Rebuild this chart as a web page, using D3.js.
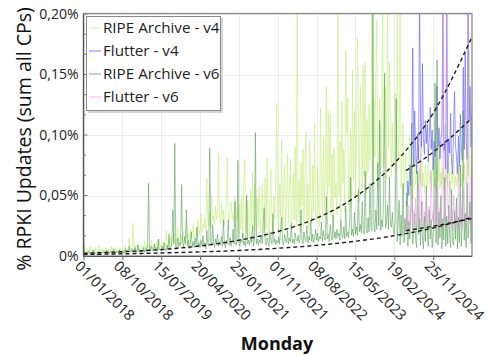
<!DOCTYPE html>
<html>
<head>
<meta charset="utf-8">
<script src="https://cdn.jsdelivr.net/npm/d3@7"></script>
<style>
  body { margin: 0; background: #fff; }
  svg { display: block; font-family: "Open Sans", "Noto Sans", sans-serif; }
</style>
</head>
<body>
<svg id="chart" width="490" height="355"></svg>
<script>
// Weekly share of RPKI updates (percent of all updates, summed over collector peers)
const startWeek = "2018-01-01";
const flutterStart = "2024-05-13";

const ripeV4 = [
  0.025,0.004,0.003,0.006,0.002,0.005,0.003,0.008,0.004,0.002,0.006,0.003,0.007,0.004,0.002,0.005,0.009,0.003,0.004,0.006,
  0.003,0.005,0.002,0.007,0.004,0.003,0.006,0.002,0.005,0.008,0.003,0.004,0.002,0.006,0.003,0.005,0.004,0.007,0.003,0.005,
  0.004,0.006,0.003,0.009,0.005,0.004,0.007,0.015,0.006,0.004,0.008,0.027,0.005,0.009,0.004,0.006,0.011,0.005,0.007,0.004,
  0.006,0.009,0.005,0.012,0.007,0.004,0.008,0.006,0.010,0.005,0.013,0.007,0.006,0.009,0.005,0.011,0.008,0.006,0.014,0.007,
  0.009,0.006,0.012,0.008,0.010,0.021,0.009,0.007,0.013,0.010,0.016,0.008,0.012,0.019,0.011,0.009,0.015,0.024,0.010,0.013,
  0.017,0.011,0.014,0.020,0.012,0.016,0.028,0.013,0.018,0.011,0.022,0.015,0.019,0.026,0.014,0.017,0.023,0.016,0.030,0.018,
  0.022,0.035,0.019,0.027,0.024,0.031,0.021,0.064,0.028,0.025,0.036,0.023,0.050,0.029,0.033,0.026,0.041,0.030,0.037,0.085,
  0.032,0.027,0.044,0.031,0.038,0.025,0.035,0.042,0.081,0.033,0.029,0.040,0.045,0.030,0.036,0.028,0.048,0.034,0.031,0.039,
  0.018,0.043,0.022,0.051,0.015,0.062,0.080,0.025,0.019,0.046,0.030,0.014,0.055,0.027,0.070,0.021,0.060,0.033,0.017,0.048,
  0.024,0.058,0.019,0.040,0.060,0.028,0.016,0.065,0.022,0.081,0.035,0.018,0.052,0.072,0.026,0.020,0.049,0.031,0.066,0.126,
  0.025,0.018,0.060,0.033,0.096,0.022,0.047,0.075,0.019,0.043,0.085,0.027,0.050,0.080,0.021,0.046,0.068,0.030,0.090,0.024,
  0.210,0.032,0.063,0.020,0.078,0.041,0.088,0.025,0.070,0.102,0.029,0.059,0.022,0.095,0.050,0.027,0.075,0.036,0.110,0.031,
  0.028,0.072,0.045,0.024,0.122,0.055,0.030,0.098,0.038,0.068,0.140,0.026,0.120,0.057,0.118,0.033,0.084,0.029,0.090,0.048,
  0.061,0.034,0.210,0.050,0.095,0.030,0.128,0.060,0.088,0.036,0.170,0.100,0.131,0.042,0.070,0.105,0.040,0.154,0.063,0.120,
  0.048,0.090,0.180,0.115,0.045,0.140,0.105,0.055,0.158,0.066,0.160,0.050,0.112,0.069,0.125,0.079,0.094,0.210,0.060,0.130,
  0.082,0.150,0.195,0.055,0.091,0.130,0.068,0.087,0.210,0.074,0.100,0.140,0.063,0.210,0.090,0.160,0.120,0.066,0.110,0.076,
  0.088,0.135,0.070,0.210,0.081,0.092,0.210,0.056,0.078,0.110,0.050,0.072,0.085,0.048,0.068,0.079,0.098,0.052,0.074,0.046,
  0.070,0.083,0.059,0.065,0.090,0.054,0.072,0.061,0.105,0.057,0.068,0.052,0.076,0.063,0.058,0.088,0.060,0.071,0.055,0.066,
  0.080,0.058,0.064,0.053,0.075,0.062,0.095,0.056,0.069,0.059,0.073,0.054,0.109,0.061,0.067,0.057,0.078,0.063,0.052,0.070,
  0.060,0.085,0.055,0.066,0.058,0.074,0.062,0.070,0.092,0.057,0.068,0.061,0.076,0.065,0.059,0.081,0.066,0.170,0.072,0.064,
  0.078
];

const ripeV6 = [
  0.016,0.002,0.003,0.001,0.002,0.004,0.002,0.003,0.001,0.002,0.005,0.002,0.003,0.002,0.001,0.003,0.004,0.002,0.003,0.002,
  0.002,0.004,0.003,0.002,0.005,0.002,0.003,0.002,0.004,0.003,0.002,0.006,0.003,0.002,0.004,0.003,0.002,0.005,0.003,0.002,
  0.003,0.004,0.002,0.006,0.003,0.005,0.003,0.008,0.004,0.003,0.006,0.004,0.003,0.007,0.004,0.003,0.009,0.004,0.005,0.003,
  0.005,0.004,0.007,0.003,0.006,0.004,0.012,0.060,0.005,0.004,0.008,0.005,0.004,0.010,0.005,0.007,0.004,0.014,0.005,0.006,
  0.004,0.008,0.005,0.011,0.006,0.004,0.009,0.006,0.018,0.005,0.007,0.012,0.038,0.010,0.093,0.008,0.006,0.015,0.007,0.011,
  0.009,0.059,0.012,0.007,0.016,0.010,0.038,0.008,0.013,0.006,0.010,0.020,0.008,0.012,0.007,0.015,0.009,0.024,0.008,0.011,
  0.007,0.013,0.009,0.017,0.008,0.011,0.006,0.021,0.010,0.008,0.089,0.012,0.009,0.026,0.011,0.007,0.014,0.010,0.018,0.008,
  0.012,0.009,0.016,0.008,0.030,0.011,0.007,0.013,0.010,0.030,0.009,0.015,0.008,0.012,0.022,0.010,0.045,0.009,0.013,0.079,
  0.010,0.008,0.014,0.011,0.019,0.009,0.012,0.008,0.050,0.010,0.013,0.009,0.016,0.011,0.025,0.008,0.012,0.102,0.010,0.014,
  0.009,0.013,0.011,0.017,0.010,0.028,0.040,0.012,0.009,0.015,0.011,0.008,0.020,0.012,0.010,0.035,0.011,0.014,0.009,0.013,
  0.011,0.016,0.010,0.024,0.032,0.012,0.009,0.018,0.013,0.011,0.021,0.010,0.015,0.012,0.027,0.011,0.014,0.010,0.019,0.013,
  0.012,0.017,0.011,0.015,0.038,0.013,0.010,0.020,0.014,0.012,0.025,0.011,0.016,0.013,0.030,0.012,0.018,0.011,0.015,0.022,
  0.013,0.019,0.012,0.016,0.014,0.028,0.012,0.021,0.015,0.013,0.049,0.014,0.018,0.012,0.026,0.016,0.013,0.034,0.015,0.020,
  0.014,0.022,0.016,0.019,0.013,0.030,0.017,0.015,0.024,0.014,0.041,0.016,0.020,0.015,0.028,0.065,0.017,0.022,0.016,0.036,
  0.018,0.024,0.017,0.055,0.020,0.026,0.019,0.045,0.021,0.018,0.070,0.022,0.019,0.032,0.020,0.060,0.023,0.021,0.215,0.024,
  0.020,0.038,0.022,0.077,0.025,0.112,0.021,0.030,0.024,0.050,0.151,0.023,0.027,0.042,0.022,0.065,0.026,0.024,0.036,0.021,
  0.018,0.030,0.130,0.012,0.028,0.046,0.009,0.034,0.016,0.060,0.011,0.031,0.020,0.052,0.008,0.029,0.014,0.040,0.110,0.010,
  0.022,0.035,0.013,0.007,0.070,0.018,0.031,0.009,0.045,0.015,0.006,0.033,0.012,0.058,0.019,0.008,0.038,0.014,0.030,0.007,
  0.017,0.044,0.143,0.011,0.162,0.009,0.036,0.015,0.050,0.006,0.031,0.013,0.065,0.008,0.033,0.010,0.042,0.016,0.007,0.055,
  0.012,0.009,0.037,0.014,0.048,0.006,0.032,0.011,0.075,0.008,0.030,0.120,0.013,0.035,0.007,0.060,0.015,0.031,0.045,0.010,
  0.090
];

const flutterV4 = [
  0.045,0.041,0.062,0.050,0.075,0.058,0.092,0.172,0.074,0.120,
  0.086,0.068,0.101,0.079,0.215,0.118,0.090,0.159,0.097,0.084,
  0.112,0.093,0.109,0.078,0.098,0.123,0.088,0.104,0.071,0.095,
  0.082,0.110,0.140,0.090,0.106,0.080,0.097,0.101,0.215,0.087,
  0.095,0.072,0.215,0.068,0.097,0.085,0.118,0.076,0.068,0.104,
  0.136,0.091,0.083,0.068,0.099,0.074,0.117,0.092,0.079,0.156,
  0.088,0.168,0.095,0.080,0.215,0.112,0.140,0.090,0.125
];

const flutterV6 = [
  0.020,0.035,0.018,0.042,0.025,0.030,0.055,0.022,0.038,0.027,
  0.048,0.020,0.033,0.060,0.026,0.130,0.031,0.045,0.023,0.037,
  0.028,0.052,0.019,0.034,0.041,0.024,0.070,0.029,0.036,0.021,
  0.046,0.027,0.058,0.032,0.023,0.040,0.026,0.049,0.215,0.030,
  0.035,0.024,0.215,0.043,0.028,0.062,0.025,0.038,0.021,0.050,
  0.033,0.027,0.044,0.022,0.075,0.031,0.026,0.040,0.023,0.056,
  0.029,0.036,0.024,0.048,0.215,0.032,0.027,0.065,0.030
];

// Exponential trend lines, sampled at the axis tick dates
const trendDates = ["2018-01-01","2018-10-08","2019-07-15","2020-04-20","2021-01-25","2021-11-01",
                    "2022-08-08","2023-05-15","2024-02-19","2024-11-25","2025-09-01"];
const ripeV4Trend = [0.0022,0.0035,0.0053,0.0083,0.0130,0.0202,0.0313,0.0488,0.0765,0.1180,0.1810];
const ripeV6Trend = [0.0013,0.0018,0.0025,0.0034,0.0046,0.0064,0.0088,0.0122,0.0168,0.0232,0.0320];
const flutterTrendDates = ["2024-05-13","2024-11-25","2025-09-01"];
const flutterV4Trend = [0.0705,0.0858,0.1140];
const flutterV6Trend = [0.0210,0.0246,0.0310];

const tickLabels = ["01/01/2018","08/10/2018","15/07/2019","20/04/2020","25/01/2021",
                    "01/11/2021","08/08/2022","15/05/2023","19/02/2024","25/11/2024"];
const yTicks = [0, 0.05, 0.10, 0.15, 0.20];
const seriesNames = ["RIPE Archive - v4", "Flutter - v4", "RIPE Archive - v6", "Flutter - v6"];

const parseISO = d3.utcParse("%Y-%m-%d");
const parseTick = d3.utcParse("%d/%m/%Y");
const weekly = (start, vals) => vals.map((v, k) => ({ date: d3.utcDay.offset(parseISO(start), 7 * k), value: v }));
const pairs = (dates, vals) => vals.map((v, k) => ({ date: parseISO(dates[k]), value: v }));

const svg = d3.select("#chart");
const plotL = 83.5, plotR = 472, plotT = 14, plotB = 256;

const x = d3.scaleUtc()
  .domain([parseISO("2018-01-01"), parseISO("2025-09-01")])
  .range([plotL, plotR]);
const y = d3.scaleLinear().domain([0, 0.2]).range([plotB, plotT]);

const tickDates = tickLabels.map(parseTick);

// grid
const grid = svg.append("g").attr("stroke", "#ebebeb").attr("stroke-width", 1);
grid.selectAll("line.v").data(tickDates).join("line")
  .attr("x1", d => Math.round(x(d)) + 0.5).attr("x2", d => Math.round(x(d)) + 0.5)
  .attr("y1", plotT).attr("y2", plotB);
grid.selectAll("line.h").data(yTicks).join("line")
  .attr("x1", plotL).attr("x2", plotR)
  .attr("y1", d => Math.round(y(d)) + 0.5).attr("y2", d => Math.round(y(d)) + 0.5);

// series
svg.append("defs").append("clipPath").attr("id", "plotclip")
  .append("rect").attr("x", plotL).attr("y", plotT).attr("width", plotR - plotL).attr("height", plotB - plotT);

const styles = [
  { color: "#c4ef7c", opacity: 0.6 },
  { color: "#5a5aff", opacity: 0.6 },
  { color: "#4f9a4f", opacity: 0.55 },
  { color: "#e58ae5", opacity: 0.42 }
];
const seriesData = [
  weekly(startWeek, ripeV4),
  weekly(flutterStart, flutterV4),
  weekly(startWeek, ripeV6),
  weekly(flutterStart, flutterV6)
];

const line = d3.line().x(d => x(d.date)).y(d => y(d.value));
const plot = svg.append("g").attr("clip-path", "url(#plotclip)");
seriesData.forEach((data, k) => {
  plot.append("path").datum(data)
    .attr("fill", "none")
    .attr("stroke", styles[k].color)
    .attr("stroke-opacity", styles[k].opacity)
    .attr("stroke-width", 1)
    .attr("stroke-linejoin", "round")
    .attr("d", line);
});

// trend lines
const trendLine = d3.line().x(d => x(d.date)).y(d => y(d.value)).curve(d3.curveMonotoneX);
[pairs(trendDates, ripeV4Trend), pairs(trendDates, ripeV6Trend),
 pairs(flutterTrendDates, flutterV4Trend), pairs(flutterTrendDates, flutterV6Trend)].forEach(t => {
  plot.append("path").datum(t)
    .attr("fill", "none")
    .attr("stroke", "#1a1a1a")
    .attr("stroke-width", 1.4)
    .attr("stroke-dasharray", "4,3")
    .attr("d", trendLine);
});

// frame
svg.append("rect").attr("x", plotL).attr("y", plotT - 0.5).attr("width", plotR - plotL).attr("height", plotB - plotT + 0.5)
  .attr("fill", "none").attr("stroke", "#8a8a8a").attr("stroke-width", 1.3);
svg.append("line").attr("x1", plotL).attr("x2", plotL).attr("y1", plotT).attr("y2", plotB + 0.5)
  .attr("stroke", "#555").attr("stroke-width", 1.2);
svg.append("line").attr("x1", plotL).attr("x2", plotR).attr("y1", plotB + 0.5).attr("y2", plotB + 0.5)
  .attr("stroke", "#555").attr("stroke-width", 1.2);

// y axis
const yAxis = svg.append("g").attr("transform", `translate(${plotL},0)`)
  .call(d3.axisLeft(y).tickValues(yTicks).tickSize(0).tickPadding(5)
    .tickFormat(d => d === 0 ? "0%" : d.toFixed(2).replace(".", ",") + "%"));
yAxis.select(".domain").remove();
yAxis.selectAll("text").attr("font-size", 14).attr("fill", "#222").attr("font-family", "Open Sans");

// minor y ticks inside the frame
const minorY = d3.range(0, 0.2001, 0.05 / 3);
svg.append("g").selectAll("line").data(minorY).join("line")
  .attr("x1", plotL).attr("x2", (d, i) => plotL + (i % 3 === 0 ? 4 : 2.5))
  .attr("y1", d => y(d)).attr("y2", d => y(d))
  .attr("stroke", "#777").attr("stroke-width", 1);

// x axis
const xAxis = svg.append("g").attr("transform", `translate(0,${plotB})`)
  .call(d3.axisBottom(x).tickValues(tickDates).tickSize(4).tickFormat((d, i) => tickLabels[i]));
xAxis.select(".domain").remove();
xAxis.selectAll(".tick line").attr("stroke", "#666");
xAxis.selectAll("text")
  .attr("font-size", 14.5).attr("fill", "#222").attr("font-family", "Open Sans")
  .attr("text-anchor", "start")
  .attr("y", 0).attr("dy", 0)
  .attr("transform", "translate(-10,11) rotate(45)");

// axis titles
svg.append("text")
  .attr("x", 277).attr("y", 350)
  .attr("text-anchor", "middle")
  .attr("font-size", 18).attr("font-weight", "bold").attr("fill", "#111")
  .text("Monday");
svg.append("text")
  .attr("transform", `translate(31,139) rotate(-90)`)
  .attr("text-anchor", "middle")
  .attr("font-size", 19.5).attr("fill", "#111")
  .text("% RPKI Updates (sum all CPs)");

// legend
const lg = svg.append("g").attr("transform", "translate(86,16)");
lg.append("rect").attr("x", 2).attr("y", 2).attr("width", 135).attr("height", 95).attr("fill", "#d6d6d6");
lg.append("rect").attr("x", 0.5).attr("y", 0.5).attr("width", 134).attr("height", 94)
  .attr("fill", "#fff").attr("stroke", "#8a8a8a").attr("stroke-width", 1);
seriesNames.forEach((name, k) => {
  const cy = 12 + k * 23;
  lg.append("line").attr("x1", 3).attr("x2", 15).attr("y1", cy).attr("y2", cy)
    .attr("stroke", styles[k].color).attr("stroke-opacity", Math.min(1, styles[k].opacity + 0.2)).attr("stroke-width", 1);
  lg.append("text").attr("x", 17).attr("y", cy).attr("dy", "0.35em")
    .attr("font-size", 15.2).attr("fill", "#222").text(name);
});
</script>
</body>
</html>
